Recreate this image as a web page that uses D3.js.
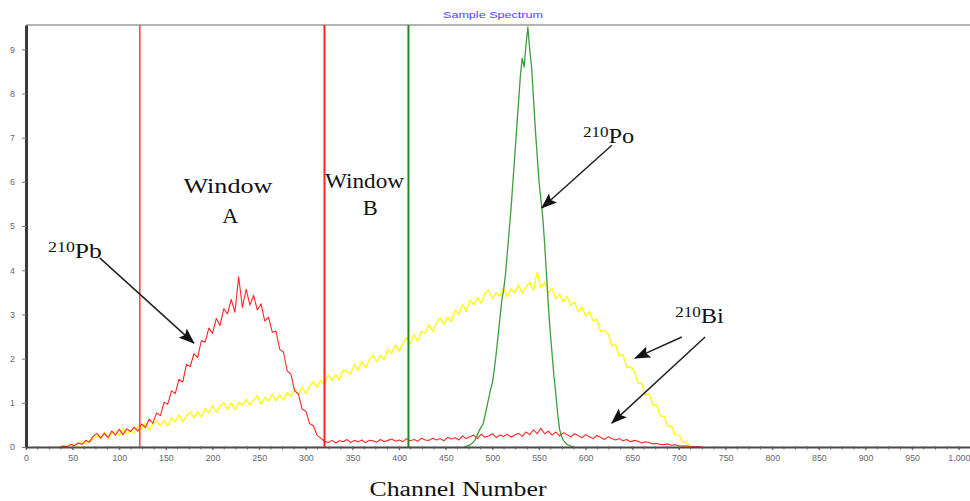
<!DOCTYPE html>
<html>
<head>
<meta charset="utf-8">
<script src="https://cdn.jsdelivr.net/npm/d3@7"></script>
<style>
  body { margin: 0; background: #fff; }
  svg { display: block; }
</style>
</head>
<body>
<svg id="chart" width="970" height="501"></svg>
<script>
// ---- Spectrum data (counts per channel bin) ----
const binStep = 4;

// 210Pb (red), channels 36..724 every 4
const pbStart = 36;
const pbCounts = [
  0.00,0.02,0.01,0.06,0.03,0.09,0.06,0.15,0.11,0.24,
  0.31,0.20,0.31,0.21,0.36,0.27,0.40,0.28,0.41,0.35,
  0.45,0.36,0.52,0.44,0.63,0.54,0.77,0.71,1.01,0.97,
  1.27,1.21,1.53,1.47,1.87,1.82,2.11,2.03,2.41,2.37,
  2.69,2.57,2.91,2.75,3.13,3.01,3.34,3.05,3.85,3.16,
  3.57,3.21,3.43,3.10,3.24,2.85,2.94,2.60,2.62,2.21,
  2.15,1.72,1.65,1.27,1.20,0.86,0.81,0.53,0.48,0.27,
  0.20,0.13,0.10,0.15,0.09,0.14,0.12,0.17,0.10,0.15,
  0.12,0.16,0.10,0.15,0.14,0.11,0.17,0.12,0.15,0.18,
  0.13,0.16,0.12,0.19,0.14,0.17,0.13,0.20,0.16,0.15,
  0.20,0.16,0.19,0.14,0.22,0.18,0.21,0.16,0.25,0.19,
  0.23,0.27,0.19,0.29,0.22,0.25,0.30,0.21,0.27,0.24,
  0.29,0.22,0.27,0.31,0.24,0.34,0.28,0.39,0.30,0.42,
  0.30,0.36,0.27,0.34,0.25,0.32,0.28,0.23,0.30,0.26,
  0.21,0.28,0.23,0.19,0.26,0.22,0.17,0.23,0.19,0.16,
  0.19,0.14,0.17,0.12,0.15,0.13,0.09,0.12,0.10,0.07,
  0.08,0.06,0.05,0.07,0.04,0.05,0.03,0.02,0.03,0.01,
  0.01,0.01,0.00
];

// 210Bi (yellow), channels 36..724 every 4
const biStart = 36;
const biCounts = [
  0.00,0.02,0.01,0.05,0.03,0.08,0.10,0.07,0.15,0.17,
  0.25,0.19,0.33,0.20,0.30,0.36,0.26,0.41,0.30,0.36,
  0.32,0.48,0.40,0.54,0.39,0.51,0.59,0.47,0.60,0.48,
  0.66,0.57,0.73,0.57,0.70,0.79,0.66,0.80,0.68,0.87,
  0.77,0.94,0.79,0.92,1.00,0.85,1.00,0.85,1.01,0.94,
  1.08,0.95,1.06,1.16,0.97,1.12,1.04,1.20,1.04,1.18,
  1.06,1.23,1.15,1.32,1.18,1.36,1.20,1.37,1.48,1.35,
  1.51,1.40,1.63,1.50,1.64,1.52,1.74,1.71,1.65,1.87,
  1.74,1.94,1.79,1.97,2.08,1.93,2.07,1.98,2.21,2.12,
  2.31,2.17,2.34,2.48,2.34,2.54,2.39,2.62,2.57,2.77,
  2.61,2.81,2.92,2.78,2.94,2.84,3.10,3.00,3.23,3.07,
  3.32,3.22,3.38,3.25,3.48,3.55,3.35,3.50,3.41,3.60,
  3.40,3.58,3.49,3.66,3.48,3.62,3.73,3.54,3.95,3.61,
  3.72,3.50,3.59,3.35,3.46,3.28,3.41,3.21,3.28,3.06,
  3.17,2.96,3.07,2.85,2.89,2.61,2.64,2.56,2.29,2.32,
  2.06,2.09,1.80,1.81,1.73,1.44,1.44,1.17,1.21,0.95,
  0.95,0.70,0.69,0.46,0.47,0.28,0.27,0.11,0.10,0.02,
  0.01,0.00,0.00
];

// 210Po (green), channels 470..588 every 2
const poStart = 470;
const poStep = 2;
const poCounts = [
  0.01,0.02,0.03,0.05,0.08,0.12,0.18,0.28,0.38,0.45,
  0.52,0.70,0.90,1.10,1.30,1.45,1.75,2.10,2.50,2.90,
  3.30,3.55,3.90,4.40,4.90,5.40,6.00,6.60,7.20,7.80,
  8.40,8.80,8.60,9.10,9.50,9.00,8.60,7.90,7.20,6.60,
  6.00,5.60,5.20,4.60,3.90,3.20,2.60,2.10,1.60,1.20,
  0.75,0.40,0.25,0.15,0.10,0.06,0.04,0.02,0.01,0.00
];

// Counting window boundaries (channels)
const windowA = [122, 320];
const windowB = [320, 410];

// Axis ticks
const xTickValues = [0,50,100,150,200,250,300,350,400,450,500,550,600,650,700,750,800,850,900,950,1000];
const yTickValues = [0,1,2,3,4,5,6,7,8,9];

// ---- Scales ----
const svg = d3.select('#chart');
const x = d3.scaleLinear().domain([0, 1012]).range([26, 970]);
const y = d3.scaleLinear().domain([0, 9.55]).range([447, 25]);

const toPoints = (start, step, counts) => counts.map((v, i) => ({ ch: start + i * step, v }));
const line = d3.line().x(d => x(d.ch)).y(d => y(d.v));

// Top frame line
svg.append('line')
  .attr('x1', x(0)).attr('x2', x(1012))
  .attr('y1', y(9.55)).attr('y2', y(9.55))
  .attr('stroke', '#9a9a9a').attr('stroke-width', 1.6);

// Title
svg.append('text')
  .attr('x', 493).attr('y', 18)
  .attr('text-anchor', 'middle')
  .attr('font-family', 'Liberation Sans, Arial, sans-serif')
  .attr('font-size', 8.5)
  .attr('fill', '#4646ff')
  .attr('textLength', 100).attr('lengthAdjust', 'spacingAndGlyphs')
  .text('Sample Spectrum');

// ---- Spectra ----
const plot = svg.append('g');
plot.append('path')
  .datum(toPoints(biStart, binStep, biCounts))
  .attr('d', line).attr('fill', 'none')
  .attr('stroke', '#ffff00').attr('stroke-width', 1.3).attr('stroke-linejoin', 'round');
plot.append('path')
  .datum(toPoints(pbStart, binStep, pbCounts))
  .attr('d', line).attr('fill', 'none')
  .attr('stroke', '#ff2626').attr('stroke-width', 1.1).attr('stroke-linejoin', 'round');
plot.append('path')
  .datum(toPoints(poStart, poStep, poCounts))
  .attr('d', line).attr('fill', 'none')
  .attr('stroke', '#3c9e3c').attr('stroke-width', 1.3).attr('stroke-linejoin', 'round');

// ---- Window markers ----
const markers = [
  { ch: windowA[0], color: '#ff4a4a', w: 1.6 },
  { ch: windowA[1], color: '#ff2020', w: 2 },
  { ch: windowB[1], color: '#1f8a1f', w: 2 }
];
plot.selectAll('line.marker').data(markers).enter().append('line')
  .attr('class', 'marker')
  .attr('x1', d => x(d.ch)).attr('x2', d => x(d.ch))
  .attr('y1', y(9.55)).attr('y2', y(0))
  .attr('stroke', d => d.color).attr('stroke-width', d => d.w);

// ---- Axes ----
const tickFont = 'Liberation Sans, Arial, sans-serif';
const xAxis = d3.axisBottom(x).tickValues(xTickValues)
  .tickFormat(d3.format(',')).tickSize(3).tickSizeOuter(0).tickPadding(5);
const gx = svg.append('g').attr('transform', `translate(0,${y(0)})`).call(xAxis);
gx.select('.domain').attr('stroke', '#4a4a4a').attr('stroke-width', 2);
gx.selectAll('.tick line').attr('stroke', '#555');
gx.selectAll('.tick text').attr('fill', '#666').attr('font-size', 8.8).attr('font-family', tickFont);

// minor ticks along the channel axis
svg.append('g').selectAll('line').data(d3.range(0, 1001, 12.5)).enter().append('line')
  .attr('x1', d => x(d)).attr('x2', d => x(d))
  .attr('y1', y(0) - 1).attr('y2', y(0) + 2.5)
  .attr('stroke', '#666').attr('stroke-width', 1);

const yAxis = d3.axisLeft(y).tickValues(yTickValues).tickSize(4).tickSizeOuter(0).tickPadding(7);
const gy = svg.append('g').attr('transform', `translate(${x(0)},0)`).call(yAxis);
gy.select('.domain').attr('stroke', '#3a3a3a').attr('stroke-width', 3);
gy.selectAll('.tick line').attr('stroke', '#777');
gy.selectAll('.tick text').attr('fill', '#666').attr('font-size', 8.8).attr('font-family', tickFont);

// Axis title
svg.append('text')
  .attr('x', 458).attr('y', 496)
  .attr('text-anchor', 'middle')
  .attr('font-family', 'Liberation Serif, Times New Roman, serif')
  .attr('font-size', 20).attr('fill', '#111')
  .attr('textLength', 177).attr('lengthAdjust', 'spacingAndGlyphs')
  .text('Channel Number');

// ---- Annotations ----
const serif = 'Liberation Serif, Times New Roman, serif';
function label(ch, val, txt, len, anchor) {
  svg.append('text')
    .attr('x', x(ch)).attr('y', y(val))
    .attr('text-anchor', anchor || 'middle')
    .attr('font-family', serif).attr('font-size', 20).attr('fill', '#111')
    .attr('textLength', len).attr('lengthAdjust', 'spacingAndGlyphs')
    .text(txt);
}
function isotope(ch, val, sym, sx) {
  const g = svg.append('g')
    .attr('transform', `translate(${x(ch)},${y(val)}) scale(${sx},1)`);
  const t = g.append('text').attr('font-family', serif).attr('fill', '#111');
  t.append('tspan').attr('font-size', 14).attr('dy', -6).text('210');
  t.append('tspan').attr('font-size', 20).attr('dy', 6).text(sym);
}

label(216.5, 5.75, 'Window', 89);
label(219, 5.07, 'A', 16);
label(363, 5.86, 'Window', 79);
label(369, 5.25, 'B', 15);
isotope(23.6, 4.28, 'Pb', 1.28);
isotope(597, 6.88, 'Po', 1.22);
isotope(696, 2.81, 'Bi', 1.22);

// arrow heads
svg.append('defs').append('marker')
  .attr('id', 'head').attr('markerUnits', 'userSpaceOnUse')
  .attr('markerWidth', 17).attr('markerHeight', 12)
  .attr('refX', 15).attr('refY', 6).attr('orient', 'auto')
  .append('path').attr('d', 'M0,0 L16,6 L0,12 L3,6 Z').attr('fill', '#111');

const arrows = [
  { from: [79, 4.28], to: [180, 2.35] },
  { from: [628, 6.83], to: [553, 5.41] },
  { from: [703, 2.49], to: [653, 2.01] },
  { from: [728, 2.49], to: [628, 0.54] }
];
svg.selectAll('line.arrow').data(arrows).enter().append('line')
  .attr('class', 'arrow')
  .attr('x1', d => x(d.from[0])).attr('y1', d => y(d.from[1]))
  .attr('x2', d => x(d.to[0])).attr('y2', d => y(d.to[1]))
  .attr('stroke', '#222').attr('stroke-width', 1.5)
  .attr('marker-end', 'url(#head)');
</script>
</body>
</html>
